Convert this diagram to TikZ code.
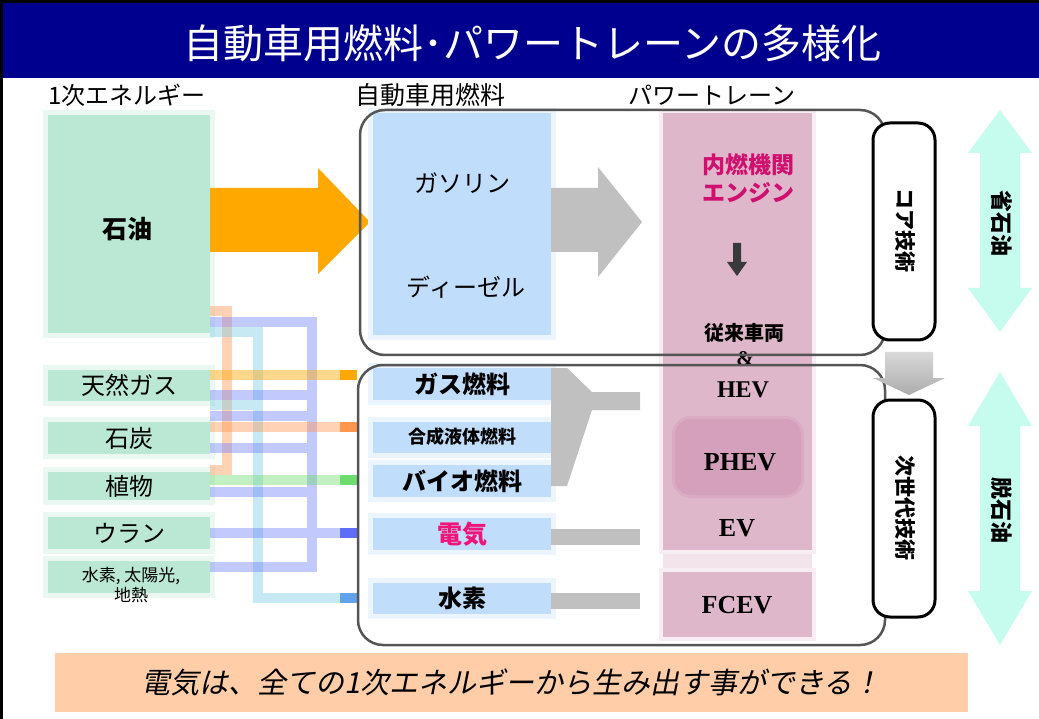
\documentclass[tikz,border=0pt]{standalone}
\usepackage{fontspec}
\newfontfamily\jp{Noto Sans CJK JP}
\newfontfamily\jpit{Noto Sans CJK JP}[FakeSlant=0.2]
\newfontfamily\tnr{Liberation Serif}
\newcommand\fsz[1]{\fontsize{#1}{#1}\selectfont}
\definecolor{navy}{RGB}{0,0,142}
\definecolor{boxgreen}{RGB}{187,232,212}
\definecolor{boxblue}{RGB}{192,221,251}
\definecolor{pinkc}{RGB}{223,183,203}
\definecolor{pinkd}{RGB}{213,160,188}
\definecolor{pinkl}{RGB}{243,228,236}
\definecolor{graya}{RGB}{192,192,192}
\definecolor{orangea}{RGB}{255,168,0}
\definecolor{cyana}{RGB}{198,252,238}
\definecolor{peach}{RGB}{255,206,168}
\definecolor{magc}{RGB}{208,16,110}
\definecolor{elecpink}{RGB}{240,20,122}
\definecolor{grpline}{RGB}{85,85,85}
\definecolor{darkar}{RGB}{58,58,58}
\definecolor{lnblue}{RGB}{112,128,248}
\definecolor{lncyan}{RGB}{120,204,230}
\definecolor{lnorange}{RGB}{255,168,0}
\definecolor{lnpeach}{RGB}{255,150,80}
\definecolor{lngreen}{RGB}{110,220,110}
\tikzset{
  gbox/.style={fill=boxgreen, preaction={draw=boxgreen!30!white, line width=10pt}, minimum width=162pt},
  bbox/.style={fill=boxblue, preaction={draw=boxblue!30!white, line width=10pt}, minimum width=178pt},
  pbox/.style={fill=pinkc, preaction={draw=pinkc!25!white, line width=8pt}},
  grp/.style={draw=grpline, line width=2.5pt, rounded corners=25pt},
  techbox/.style={draw=black, fill=white, line width=3pt, rounded corners=17pt, minimum width=62pt, minimum height=217pt},
  conn/.style={line width=10pt, opacity=0.42},
  capend/.style={line width=10pt},
  txt/.style={font=\jp\fsz{24}},
  btxt/.style={font=\jp\bfseries\fsz{24}},
  evtxt/.style={font=\tnr\bfseries\fsz{26}},
}
\begin{document}
\begin{tikzpicture}[x=1pt,y=-1pt, every node/.style={inner sep=0pt}]
\useasboundingbox (0,0) rectangle (1039,719);
\fill[white] (0,0) rectangle (1039,719);
% title bar
\fill[navy] (0,0) rectangle (1039,78);
\fill[black] (0,0) rectangle (1039,3);
\fill[black] (0,0) rectangle (3,719);
\node[text=white, font=\jp\fsz{40}] (title) at (532,43) {自動車用燃料･パワートレーンの多様化};
% headers
\node[font=\jp\fsz{24}] (h1) at (127,95) {1次エネルギー};
\node[font=\jp\fsz{25}] (h2) at (430,95) {自動車用燃料};
\node[font=\jp\fsz{24}] (h3) at (712,95) {パワートレーン};

% primary energy boxes
\node[gbox, minimum height=218pt] (oil) at (129,224) {};
\node[font=\jp\bfseries\fsz{25}] (oiltxt) at (127,229) {石油};
\node[gbox, minimum height=31pt, txt] (ngas) at (129,385) {天然ガス};
\node[gbox, minimum height=32pt, txt] (coal) at (129,438) {石炭};
\node[gbox, minimum height=28pt, txt] (plant) at (129,486) {植物};
\node[gbox, minimum height=32pt, txt] (uran) at (129,533) {ウラン};
\node[gbox, minimum height=32pt] (renew) at (129,577) {};
\node[font=\jp\fsz{17}, align=center] (renewtxt) at (131,585) {水素, 太陽光,\\[1pt]地熱};

% connectors (energy -> fuel)
\draw[conn, draw=lnpeach] (oil.east |- 0,311) -- (227,311) -- (227,470) -- (plant.east |- 0,470);
\draw[conn, draw=lncyan] (oil.east |- 0,332) -- (258,332) -- (258,598) -- (340,598)
      (ngas.east |- 0,405) -- (258,405);
\draw[conn, draw=lnblue] (oil.east |- 0,322) -- (312,322) -- (312,567) -- (renew.east |- 0,567)
      (ngas.east |- 0,395) -- (312,395)
      (coal.east |- 0,416) -- (312,416)
      (coal.east |- 0,448) -- (312,448)
      (plant.east |- 0,492) -- (312,492)
      (uran.east |- 0,533) -- (340,533);
\draw[conn, draw=lnorange, opacity=0.45] (ngas.east |- 0,375) -- (340,375);
\draw[conn, draw=lnpeach] (coal.east |- 0,427) -- (340,427);
\draw[conn, draw=lngreen] (plant.east |- 0,480) -- (340,480);
\draw[capend, draw=orangea] (340,375) -- (357,375);
\draw[capend, draw=lnpeach] (340,427) -- (357,427);
\draw[capend, draw=lngreen] (340,480) -- (357,480);
\draw[capend, draw=lnblue!85!blue] (340,533) -- (357,533);
\draw[capend, draw=lncyan!80!blue] (340,598) -- (357,598);

% big orange arrow
\fill[orangea] (oil.east |- 0,188) -- (318,188) -- (318,168) -- (370,222) -- (318,274) -- (318,252) -- (oil.east |- 0,252) -- cycle;

% fuel boxes
\node[bbox, minimum height=222pt] (fueltop) at (462,224) {};
\node[txt] (gasoline) at (462,183) {ガソリン};
\node[txt] (diesel) at (466,287) {ディーゼル};
\node[bbox, minimum height=32pt, txt] (gasf) at (462,384) {\bfseries ガス燃料};
\node[bbox, minimum height=31pt, font=\jp\bfseries\fsz{18}] (synf) at (462,437) {合成液体燃料};
\node[bbox, minimum height=32pt, txt] (bio) at (462,481) {\bfseries バイオ燃料};
\node[bbox, minimum height=32pt, font=\jp\bfseries\fsz{25}, text=elecpink] (elec) at (462,534) {電気};
\node[bbox, minimum height=31pt, txt] (h2) at (462,598) {\bfseries 水素};

% gray arrows fuel -> powertrain
\fill[graya] (fueltop.east |- 0,188) -- (598,188) -- (598,167) -- (642,222) -- (598,277) -- (598,252) -- (fueltop.east |- 0,252) -- cycle;
\fill[graya] (gasf.east |- 0,368) -- (567,368) -- (592,392) -- (640,392) -- (640,410) -- (592,410) -- (567,486) -- (bio.east |- 0,486) -- cycle;
\fill[graya] (elec.east |- 0,529) -- (640,529) -- (640,545) -- (elec.east |- 0,545) -- cycle;
\fill[graya] (h2.east |- 0,593) -- (640,593) -- (640,609) -- (h2.east |- 0,609) -- cycle;

% powertrain column
\fill[pinkl] (663,550) rectangle (812,572);
\node[pbox, minimum width=149pt, minimum height=437pt] (ptcol) at (737.5,331.5) {};
\node[pbox, minimum width=149pt, minimum height=65pt] (fcevbg) at (737.5,604.5) {};
\node[fill=pinkd, rounded corners=16pt, minimum width=126pt, minimum height=76pt, preaction={draw=pinkd!50!pinkc, line width=6pt}] (phevbg) at (738,457) {};
\node[font=\jp\bfseries\fsz{23}, text=magc] (ice1) at (748,165) {内燃機関};
\node[font=\jp\bfseries\fsz{23}, text=magc] (ice2) at (748,193) {エンジン};
\node[font=\jp\bfseries\fsz{20}] (conv) at (744,333) {従来車両};
\node[font=\tnr\bfseries\fsz{21}] (amp) at (745,359) {\&};
\node[font=\tnr\bfseries\fsz{24}] (hev) at (743,390) {HEV};
\node[evtxt] (phev) at (740,462) {PHEV};
\node[evtxt] (ev) at (737,528) {EV};
\node[evtxt] (fcev) at (737,605) {FCEV};
\fill[darkar] (733,243) -- (741,243) -- (741,262) -- (747,262) -- (737,276) -- (727,262) -- (733,262) -- cycle;

% group frames
\draw[grp] (360,110) rectangle (885,355);
\draw[grp] (358,365) rectangle (885,645);

% tech boxes
\node[techbox] (core) at (904,231.5) {};
\node[rotate=-90, font=\jp\bfseries\fsz{21}] (coretxt) at (905,231) {コア技術};
\node[techbox] (next) at (904,508.5) {};
\node[rotate=-90, font=\jp\bfseries\fsz{21}] (nexttxt) at (905,508) {次世代技術};
\shade[top color=gray!30, bottom color=gray!65] (885,352) -- (933,352) -- (933,378) -- (945,378) -- (909,395) -- (873,378) -- (885,378) -- cycle;

% cyan double arrows
\fill[cyana] (1000,110) -- (1032,153) -- (1020,153) -- (1020,288) -- (1032,288) -- (1000,332) -- (968,288) -- (980,288) -- (980,153) -- (968,153) -- cycle;
\node[rotate=-90, font=\jp\bfseries\fsz{22}] (save) at (1002,224) {省石油};
\fill[cyana] (1000,372) -- (1032,426) -- (1020,426) -- (1020,591) -- (1032,591) -- (1000,645) -- (968,591) -- (980,591) -- (980,426) -- (968,426) -- cycle;
\node[rotate=-90, font=\jp\bfseries\fsz{22}] (decarb) at (1002,510) {脱石油};

% bottom banner
\node[fill=peach, minimum width=913pt, minimum height=59pt, font=\jpit\fsz{29}] (banner) at (511.5,682.5) {電気は、全ての1次エネルギーから生み出す事ができる！};
\end{tikzpicture}
\end{document}
